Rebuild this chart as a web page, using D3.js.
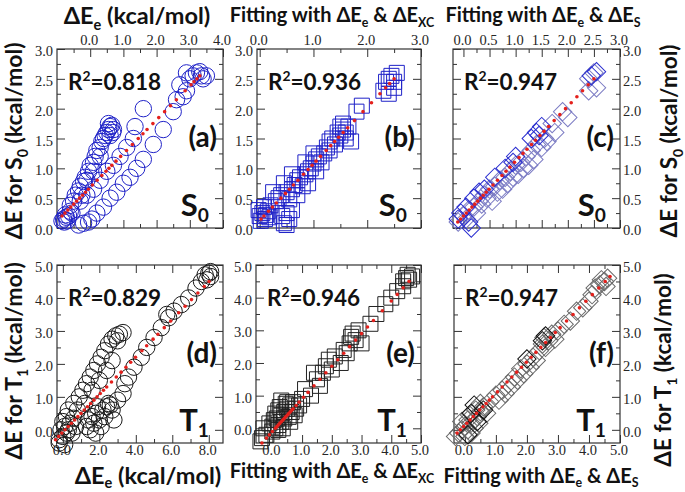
<!DOCTYPE html>
<html><head><meta charset="utf-8">
<script src="https://cdn.jsdelivr.net/npm/d3@7/dist/d3.min.js"></script>
<style>html,body{margin:0;padding:0;background:#fff}svg{display:block}
.tk text{font-family:'Liberation Serif','DejaVu Serif',serif !important;font-size:14.5px !important;fill:#262626}</style>
</head><body>
<svg id="chart" width="685" height="492"></svg>
<script>
// ---------------- DATA ----------------
// (a) S0 vs ΔEe : [ΔEe, ΔE]
const ptsA = [[-0.85,0.12],[-0.8,0.15],[-0.78,0.1],[-0.72,0.18],[-0.7,0.12],[-0.75,0.22],[-0.65,0.2],[-0.6,0.28],[-0.55,0.25],
 [-0.6,0.38],[-0.5,0.45],[-0.45,0.55],[-0.35,0.62],[-0.3,0.7],[-0.2,0.78],[-0.15,0.85],[-0.05,0.95],[0.0,1.05],[0.1,1.1],[0.15,1.2],[0.2,1.3],[0.3,1.35],[0.35,1.45],[0.4,1.5],[0.45,1.55],[0.5,1.6],[0.55,1.65],[0.6,1.7],[0.65,1.72],[0.7,1.65],[0.6,1.55],[0.68,1.6],[0.55,1.75],[0.3,1.2],[0.1,0.95],[-0.1,0.8],[-0.25,0.55],
 [-0.3,0.45],[-0.1,0.55],[0.1,0.65],[0.3,0.8],[0.5,0.95],[0.7,1.05],[0.9,1.2],[1.1,1.35],[1.3,1.5],[1.6,2.0],[1.35,1.7],
 [-0.35,0.05],[-0.2,0.08],[-0.05,0.1],[0.05,0.15],[0.2,0.25],[0.4,0.35],[0.6,0.5],[0.8,0.6],[1.0,0.75],[1.2,0.85],[1.4,1.0],[1.6,1.15],[1.9,1.4],[2.2,1.65],[2.5,1.95],[2.8,2.2],
 [2.7,2.4],[2.9,2.3],[3.0,2.5],[3.1,2.55],[3.2,2.6],[3.35,2.55],[3.4,2.5],[3.3,2.62],[2.9,2.6],[3.5,2.55],[2.6,2.15]];
const redA = [0.2,0.25,0.3,0.35,0.4,0.45,0.5,0.55,0.6,0.65,0.72,0.8,0.88,0.95,1.0,1.05,1.12,1.2,1.3,1.4,1.5,1.58,1.65,1.75,1.85,1.95,2.05,2.15,2.3,2.4,2.45,2.5,2.55];
const fitA = [0.566, 0.681];

// (b) S0 fit with ΔEe & ΔExc
const ptsB = [[0.0,0.2],[0.05,0.25],[0.1,0.15],[-0.02,0.3],[0.08,0.35],[0.15,0.28],[0.02,0.12],[0.12,0.22],[0.2,0.38],[0.18,0.18],
 [0.45,0.08],[0.5,0.05],[0.55,0.15],[0.42,0.2],[0.5,0.25],[0.6,0.3],
 [0.3,0.45],[0.35,0.5],[0.4,0.55],[0.5,0.6],[0.55,0.48],[0.6,0.65],[0.65,0.72],[0.7,0.55],[0.7,0.8],[0.75,0.85],[0.8,0.7],[0.85,0.9],[0.9,0.95],[0.95,1.0],[1.0,1.08],[1.05,0.95],[1.05,1.15],[1.1,1.2],[1.15,1.1],[1.2,1.25],[1.25,1.35],[1.3,1.3],[1.3,1.45],[1.35,1.5],[1.4,1.4],[1.45,1.6],[1.5,1.55],[1.55,1.65],[1.6,1.5],[1.6,1.6],[1.65,1.7],[1.55,1.75],[1.5,1.7],[1.7,1.45],[0.25,0.6],[0.45,0.75],[0.6,0.9],[0.85,1.1],[1.0,1.25],[0.9,0.75],
 [1.8,1.95],[1.9,2.05],[2.3,2.3],[2.35,2.45],[2.4,2.5],[2.45,2.55],[2.5,2.45],[2.55,2.6],[2.5,2.35],[2.4,2.25]];
const redB = [0.15,0.2,0.28,0.35,0.42,0.5,0.58,0.65,0.72,0.8,0.9,0.98,1.05,1.12,1.2,1.3,1.38,1.45,1.52,1.6,1.68,1.8,1.95,2.1,2.25,2.35,2.42,2.5];
const fitB = [0.95, 0.125];

// (c) S0 fit with ΔEe & ΔEs  (light / dark symbols)
const ptsCLight = [[-0.1,0.1],[0.0,0.2],[0.05,0.15],[0.1,0.3],[0.2,0.35],[0.25,0.25],[0.3,0.45],[0.35,0.4],[0.4,0.55],[0.45,0.5],[0.5,0.65],[0.55,0.45],[0.6,0.7],[0.65,0.6],[0.7,0.8],[0.75,0.65],[0.8,0.85],[0.85,0.75],[0.9,0.95],[0.95,0.85],[1.0,1.05],[1.05,0.9],[1.1,1.1],[1.15,1.0],[1.2,1.2],[1.25,1.05],[1.3,1.3],[1.35,1.15],[1.4,1.4],[1.5,1.35],[1.55,1.5],[1.6,1.45],[1.75,1.6],[1.7,1.75],[2.4,2.3],[2.55,2.35],[2.5,2.6],[2.4,2.5],[1.9,1.95],[2.0,1.85]];
const ptsCDark = [[-0.1,0.15],[-0.05,0.25],[0.1,0.1],[0.15,0.0],[0.05,0.35],[0.2,0.5],[0.3,0.6],[0.4,0.65],[0.6,0.85],[0.8,1.0],[0.95,1.1],[1.0,1.2],[1.3,1.5],[1.4,1.6],[1.5,1.7],[1.45,1.55],[2.45,2.55],[2.55,2.62]];
const redC = [0.1,0.15,0.2,0.25,0.3,0.35,0.4,0.45,0.5,0.55,0.6,0.65,0.72,0.8,0.88,0.95,1.02,1.1,1.18,1.25,1.32,1.4,1.47,1.55,1.62,1.7,1.8,1.9,2.0,2.1,2.2,2.3,2.4,2.5];
const fitC = [0.92, 0.2];

// (d) T1 vs ΔEe
const ptsD = [[-0.2,-0.3],[0.0,-0.2],[0.2,-0.1],[-0.1,0.0],[0.1,0.1],[0.3,0.0],[0.0,0.25],[0.4,0.2],[0.5,-0.1],[0.7,0.1],[0.2,0.4],[0.6,0.35],[-0.2,-0.4],[0.1,-0.45],
 [0.3,0.6],[0.6,0.8],[0.9,1.0],[1.1,1.2],[1.3,1.4],[1.5,1.6],[1.7,1.8],[1.9,2.0],[2.1,2.2],[2.3,2.4],[2.5,2.6],[2.7,2.75],[2.9,2.85],[3.1,2.9],[3.3,2.95],[3.0,2.7],[1.2,0.8],[1.6,1.2],[2.0,1.5],[2.4,1.8],[2.7,2.1],[0.8,0.6],
 [1.3,0.1],[1.5,0.0],[1.7,0.2],[1.6,0.4],[1.8,0.5],[2.0,0.3],[2.2,0.6],[2.4,0.7],[2.5,0.8],[2.6,0.75],[2.3,0.4],[1.9,0.7],[2.1,0.1],[1.4,0.3],[2.7,0.6],[3.0,0.9],[3.3,1.1],[2.8,0.3],[1.8,-0.1],
 [3.6,1.6],[3.9,1.9],[4.3,2.2],[3.4,1.4],
 [4.6,2.5],[5.0,2.8],[5.4,3.1],[5.8,3.4],[6.1,3.6],[6.5,3.8],[6.9,4.0],[7.3,4.3],[7.6,4.5],[7.8,4.7],[8.0,4.75],[8.1,4.65],[7.9,4.55],[8.1,4.8],[5.7,3.5]];
const redD = [-0.3,-0.2,-0.1,0,0.1,0.2,0.3,0.4,0.5,0.6,0.7,0.8,0.9,1.0,1.1,1.2,1.3,1.45,1.6,1.75,1.9,2.05,2.2,2.4,2.55,2.75,2.9,3.1,3.3,3.55,3.75,3.95,4.15,4.35,4.5];
const fitD = [0.57, -0.07];

// (e) T1 fit with ΔEe & ΔExc
const ptsE = [[-0.4,-0.4],[-0.35,-0.3],[-0.2,-0.2],[0.0,-0.1],[0.1,0.0],[0.2,0.1],[0.3,0.2],[0.15,0.3],[0.3,0.4],[0.4,0.5],[0.5,0.6],[0.6,0.7],[0.5,0.8],[0.4,0.3],[0.2,-0.05],[0.0,0.05],[-0.1,0.15],[0.35,0.0],[0.55,0.35],[0.65,0.5],[0.7,0.8],[0.8,0.6],[0.25,0.65],[0.45,0.75],[0.1,0.45],[0.3,0.85],[0.6,0.2],[0.75,0.4],[-0.3,0.0],[0.05,0.25],[0.9,0.7],[0.2,0.55],
 [1.0,0.9],[1.1,1.2],[1.3,1.0],[1.5,1.5],[1.6,1.3],[1.7,1.7],[1.8,1.9],[2.0,1.8],[2.1,2.2],[2.3,2.0],[2.4,2.4],[2.5,2.3],[2.6,2.6],[2.7,2.9],[2.8,2.7],[2.9,3.0],[3.0,2.6],[2.65,2.8],[1.4,1.7],[1.9,2.1],[3.3,3.2],[3.5,3.5],[3.8,3.8],[4.0,4.0],[4.2,4.2],
 [4.4,4.5],[4.5,4.6],[4.6,4.55],[4.55,4.7],[4.7,4.65],[4.4,4.35]];
const redE = [-0.45,-0.3,-0.2,-0.1,0,0.05,0.1,0.15,0.2,0.25,0.3,0.35,0.4,0.45,0.5,0.55,0.6,0.7,0.8,0.95,1.1,1.3,1.5,1.7,1.9,2.1,2.3,2.5,2.7,2.9,3.1,3.3,3.6,3.9,4.1,4.3,4.5];
const fitE = [1.0, -0.1];

// (f) T1 fit with ΔEe & ΔEs (gray / black symbols)
const ptsFGray = [[-0.3,-0.2],[-0.2,-0.1],[-0.1,0.0],[0.0,0.1],[0.1,0.0],[0.0,-0.2],[0.2,0.2],[0.3,0.3],[0.15,0.45],[0.4,0.4],[0.5,0.55],[0.3,0.05],[0.45,0.2],[0.6,0.7],[0.2,-0.1],[-0.1,0.25],[0.5,0.8],[0.7,0.5],[0.1,0.3],[0.35,0.6],
 [0.8,0.85],[1.0,1.05],[1.1,0.9],[1.2,1.2],[1.3,1.1],[1.4,1.4],[1.5,1.3],[1.6,1.6],[1.7,1.5],[1.8,1.85],[1.9,1.7],[2.0,2.0],[2.1,1.9],[2.2,2.2],[2.3,2.1],[2.4,2.4],[2.5,2.6],[2.6,2.5],[2.7,2.7],[2.55,2.8],[2.8,2.9],[2.9,2.75],[3.0,3.0],[3.2,3.2],[3.4,3.3],[3.6,3.6],[3.8,3.7],[4.0,3.9],[4.1,4.1],[4.2,4.3],[4.35,4.4],[4.5,4.5],[4.6,4.6],[4.4,4.55],[4.55,4.35]];
const ptsFBlack = [[0.2,0.5],[0.4,0.25],[0.6,0.6],[2.5,2.7],[2.6,2.85],[0.3,0.75],[0.1,-0.15],[2.0,2.15]];
const redF = [-0.1,0,0.1,0.2,0.3,0.4,0.5,0.6,0.7,0.8,0.9,1.0,1.15,1.3,1.45,1.6,1.75,1.9,2.05,2.2,2.35,2.5,2.65,2.8,2.95,3.1,3.3,3.5,3.7,3.9,4.1,4.3,4.5,4.65];
const fitF = [0.964, 0.14];

// tick values
const xTicksA = [0,1,2,3,4], xMinorA = [-0.5,0.5,1.5,2.5,3.5];
const xTicksB = [0,1,2,3], xMinorB = [0.5,1.5,2.5];
const xTicksC = [0,0.5,1,1.5,2,2.5,3], xMinorC = [0.25,0.75,1.25,1.75,2.25,2.75];
const yTicksS = [0,0.5,1,1.5,2,2.5,3], yMinorS = [0.25,0.75,1.25,1.75,2.25,2.75];
const xTicksD = [0,2,4,6,8], xMinorD = [1,3,5,7];
const xTicksEF = [0,1,2,3,4,5], xMinorEF = [0.5,1.5,2.5,3.5,4.5];
const yTicksT = [0,1,2,3,4,5], yMinorT = [0.5,1.5,2.5,3.5,4.5];
const r2Labels = ["0.818","0.936","0.947","0.829","0.946","0.947"];
const panelTags = ["(a)","(b)","(c)","(d)","(e)","(f)"];

// ---------------- DRAW ----------------
const svg = d3.select("#chart");
const SANS = "Lato, 'Open Sans', 'DejaVu Sans', sans-serif";
const SERIF = "'Liberation Serif', 'DejaVu Serif', serif";
const fmt = d3.format(".1f");

function rich(g, parts, x, y, fs, opts = {}) {
  const t = g.append("text").attr("x", x).attr("y", y)
    .attr("font-family", SANS).attr("font-weight", 700).attr("font-size", fs)
    .attr("fill", "#111").attr("text-anchor", opts.anchor || "start");
  if (opts.rotate) t.attr("transform", `rotate(${opts.rotate},${x},${y})`);
  let shift = 0;
  parts.forEach(p => {
    const s = t.append("tspan").text(p.t);
    let target = 0, size = fs;
    if (p.sub) { target = fs * (p.subShift || opts.subShift || 0.26); size = fs * 0.62; }
    if (p.sup) { target = -fs * 0.4; size = fs * 0.62; }
    s.attr("font-size", size).attr("dy", target - shift);
    shift = target;
  });
  return t;
}

function panel(cfg) {
  const g = svg.append("g");
  const x = d3.scaleLinear().domain(cfg.xdom).range([cfg.left, cfg.right]);
  const y = d3.scaleLinear().domain(cfg.ydom).range([cfg.bottom, cfg.top]);
  const axColor = "#333";
  function ax(gen, tx, ty, vals, size, labels, pad, horiz) {
    const a = g.append("g").attr("class", "tk").attr("transform", `translate(${tx},${ty})`)
      .call(gen.tickValues(vals).tickSize(-size).tickPadding(pad)
        .tickFormat(labels ? fmt : () => ""));
    a.attr("font-family", SERIF).attr("font-size", 14.5);
    a.select(".domain").remove();
    a.selectAll("line").attr("stroke", axColor).attr("stroke-width", 1);
    const txt = a.selectAll("text").attr("font-family", SERIF).attr("font-size", 14.5).attr("fill", "#262626");
    if (horiz) txt.attr("dx", -1.5); else txt.attr("transform", "translate(0,2)");
  }
  const W = cfg.right - cfg.left, H = cfg.bottom - cfg.top;
  ax(d3.axisTop(x), 0, cfg.top, cfg.xT, 8, cfg.xLabelTop, 4, true);
  ax(d3.axisTop(x), 0, cfg.top, cfg.xM, 4, false, 4, true);
  ax(d3.axisBottom(x), 0, cfg.bottom, cfg.xT, 8, !cfg.xLabelTop, 2, true);
  ax(d3.axisBottom(x), 0, cfg.bottom, cfg.xM, 4, false, 2, true);
  ax(d3.axisLeft(y), cfg.left, 0, cfg.yT, 8, !cfg.yLabelRight, 4, false);
  ax(d3.axisLeft(y), cfg.left, 0, cfg.yM, 4, false, 4, false);
  ax(d3.axisRight(y), cfg.right, 0, cfg.yT, 8, cfg.yLabelRight, 3, false);
  ax(d3.axisRight(y), cfg.right, 0, cfg.yM, 4, false, 3, false);
  g.append("rect").attr("x", cfg.left).attr("y", cfg.top).attr("width", W).attr("height", H)
    .attr("fill", "none").attr("stroke", axColor).attr("stroke-width", 1.2);

  cfg.series.forEach(s => {
    const sel = g.append("g").selectAll("path").data(s.data).join("path")
      .attr("fill", "none").attr("stroke", s.color).attr("stroke-width", s.sw || 1);
    if (s.shape === "circle") {
      sel.attr("d", d3.symbol(d3.symbolCircle, Math.PI * 8.2 * 8.2))
        .attr("transform", d => `translate(${x(d[0])},${y(d[1])})`);
    } else if (s.shape === "square") {
      sel.attr("d", d3.symbol(d3.symbolSquare, 15 * 15))
        .attr("transform", d => `translate(${x(d[0])},${y(d[1])})`);
    } else {
      sel.attr("d", d3.symbol(d3.symbolSquare, 13 * 13))
        .attr("transform", d => `translate(${x(d[0])},${y(d[1])}) rotate(45)`);
    }
  });
  g.append("g").selectAll("circle").data(cfg.red).join("circle")
    .attr("cx", v => x((v - cfg.fit[1]) / cfg.fit[0])).attr("cy", v => y(v))
    .attr("r", 1.8).attr("fill", "#e4201c");

  rich(g, [{t:"R"},{t:"2",sup:true},{t:"=" + cfg.r2}], cfg.left + 11, cfg.top + 41, 22.5);
  rich(g, [{t:cfg.tag}], cfg.right - 6, cfg.top + 98, 28, {anchor:"end"});
  rich(g, [{t:cfg.state},{t:cfg.sub,sub:true,subShift:0.2}], cfg.right - 14, cfg.bottom - 12, 31, {anchor:"end"});
}

const blue = "#1f22c8";
panel({left:57, right:223, top:49, bottom:228, xdom:[-1,4], ydom:[0,3],
  xT:xTicksA, xM:xMinorA, yT:yTicksS, yM:yMinorS, xLabelTop:true, yLabelRight:false,
  series:[{data:ptsA, shape:"circle", color:blue}], red:redA, fit:fitA,
  r2:r2Labels[0], tag:panelTags[0], state:"S", sub:"0"});
panel({left:257, right:421, top:49, bottom:228, xdom:[-0.05,3], ydom:[0,3],
  xT:xTicksB, xM:xMinorB, yT:yTicksS, yM:yMinorS, xLabelTop:true, yLabelRight:false,
  series:[{data:ptsB, shape:"square", color:blue}], red:redB, fit:fitB,
  r2:r2Labels[1], tag:panelTags[1], state:"S", sub:"0"});
panel({left:453, right:620, top:49, bottom:228, xdom:[-0.2,3], ydom:[0,3],
  xT:xTicksC, xM:xMinorC, yT:yTicksS, yM:yMinorS, xLabelTop:true, yLabelRight:true,
  series:[{data:ptsCLight, shape:"diamond", color:"#7c7cc4"},{data:ptsCDark, shape:"diamond", color:"#2a2ed0"}], red:redC, fit:fitC,
  r2:r2Labels[2], tag:panelTags[2], state:"S", sub:"0"});
panel({left:57, right:223, top:265, bottom:443, xdom:[-0.32,8.78], ydom:[-0.4,5],
  xT:xTicksD, xM:xMinorD, yT:yTicksT, yM:yMinorT, xLabelTop:false, yLabelRight:false,
  series:[{data:ptsD, shape:"circle", color:"#1a1a1a"}], red:redD, fit:fitD,
  r2:r2Labels[3], tag:panelTags[3], state:"T", sub:"1"});
panel({left:256, right:421, top:265, bottom:443, xdom:[-0.55,5], ydom:[-0.45,5],
  xT:xTicksEF, xM:xMinorEF, yT:yTicksT, yM:yMinorT, xLabelTop:false, yLabelRight:false,
  series:[{data:ptsE, shape:"square", color:"#222"}], red:redE, fit:fitE,
  r2:r2Labels[4], tag:panelTags[4], state:"T", sub:"1"});
panel({left:454, right:620, top:265, bottom:443, xdom:[-0.35,5], ydom:[-0.4,5],
  xT:xTicksEF, xM:xMinorEF, yT:yTicksT, yM:yMinorT, xLabelTop:false, yLabelRight:true,
  series:[{data:ptsFGray, shape:"diamond", color:"#6a6a6a"},{data:ptsFBlack, shape:"diamond", color:"#111"}], red:redF, fit:fitF,
  r2:r2Labels[5], tag:panelTags[5], state:"T", sub:"1"});

// axis titles
const tg = svg.append("g");
rich(tg, [{t:"ΔE"},{t:"e",sub:true},{t:" (kcal/mol)"}], 137, 24, 23.5, {anchor:"middle"});
rich(tg, [{t:"Fitting with ΔE"},{t:"e",sub:true},{t:" & ΔE"},{t:"XC",sub:true}], 332, 22, 20, {anchor:"middle"});
rich(tg, [{t:"Fitting with ΔE"},{t:"e",sub:true},{t:" & ΔE"},{t:"S",sub:true}], 543, 22, 20, {anchor:"middle"});
rich(tg, [{t:"ΔE"},{t:"e",sub:true},{t:" (kcal/mol)"}], 148, 484, 23.5, {anchor:"middle", subShift:0.18});
rich(tg, [{t:"Fitting with ΔE"},{t:"e",sub:true},{t:" & ΔE"},{t:"XC",sub:true}], 332, 478, 20, {anchor:"middle"});
rich(tg, [{t:"Fitting with ΔE"},{t:"e",sub:true},{t:" & ΔE"},{t:"S",sub:true}], 541, 483, 20, {anchor:"middle", subShift:0.2});
rich(tg, [{t:"ΔE for S"},{t:"0",sub:true},{t:" (kcal/mol)"}], 22, 141, 23, {anchor:"middle", rotate:-90});
rich(tg, [{t:"ΔE for T"},{t:"1",sub:true},{t:" (kcal/mol)"}], 22, 361, 23, {anchor:"middle", rotate:-90});
rich(tg, [{t:"ΔE for S"},{t:"0",sub:true},{t:" (kcal/mol)"}], 677, 141, 22.5, {anchor:"middle", rotate:-90});
rich(tg, [{t:"ΔE for T"},{t:"1",sub:true},{t:" (kcal/mol)"}], 671, 370, 22.5, {anchor:"middle", rotate:-90});
</script>
</body></html>
